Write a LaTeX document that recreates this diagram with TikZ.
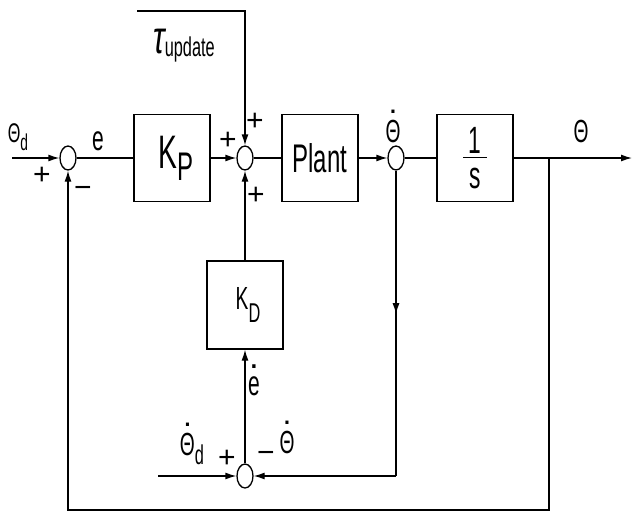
\documentclass[tikz,border=0pt]{standalone}
\usepackage{graphicx}
\usepackage{fontspec}
\setmainfont{Liberation Sans}[FakeStretch=0.6]
\newfontfamily\signfont{Liberation Sans}
\usepackage{tikz}
\usetikzlibrary{positioning,shapes.geometric,arrows.meta,decorations.markings}
\newcommand\lsub[2][0.3em]{\raisebox{-#1}{\scalebox{0.85}{#2}}}
\newcommand\dotover[2][0.9em]{\ooalign{#2\cr\hidewidth\raisebox{#1}{\signfont.}\hidewidth\cr}}

\begin{document}
\begin{tikzpicture}[x=1pt, y=-1pt, line width=1.3pt,
    blk/.style={draw,minimum width=76pt,minimum height=87pt,inner sep=0pt},
    sumj/.style={draw,ellipse,minimum width=16pt,minimum height=24pt,inner sep=0pt},
    arr/.style={-{Latex[length=11pt,width=7pt]}},
    midarr/.style={postaction={decorate},decoration={markings,mark=at position 0.47 with {\arrow{Latex[length=11pt,width=7pt]}}}},
    lbl/.style={inner sep=0pt,anchor=base,font=\fontsize{32}{32}\selectfont},
    sgn/.style={inner sep=0pt,font=\signfont\fontsize{30}{30}\selectfont}]
    \useasboundingbox (0,0) rectangle (633,512);
    % forward path
    \node[sumj] (s1) at (68,158) {};
    \node[blk,font=\fontsize{47}{47}\selectfont] (kp) at (172,158) {\hspace{8pt}K\lsub[0.25em]{P}};
    \node[sumj] (s2) at (245,158) {};
    \node[blk,font=\fontsize{40}{40}\selectfont] (plant) at (320,158) {Plant};
    \node[sumj] (s3) at (396,158) {};
    \node[blk,align=center,font=\fontsize{38}{38}\selectfont] (integ) at (475,158) {1\\[-33pt]\rule{24pt}{1.3pt}\\[-8pt]s};
    % derivative path
    \node[blk,minimum height=88pt,font=\fontsize{32}{32}\selectfont] (kd) at (245,305) {\hspace{6pt}K\lsub[0.4em]{D}};
    \node[sumj] (s4) at (245,476) {};
    \coordinate (in) at (12,158);
    \coordinate (out) at (632,158);
    \coordinate (br) at (549,158);
    \coordinate (br1) at (549,510);
    \coordinate (br2) at (68,510);
    \coordinate (tu) at (137,11);
    \coordinate (tu1) at (245,11);
    \coordinate (c3) at (396,476);
    \coordinate (ind) at (158,476);
    \draw[arr] (in) -- (s1); \draw (s1) -- (kp); \draw[arr] (kp) -- (s2);
    \draw (s2) -- (plant); \draw[arr] (plant) -- (s3); \draw (s3) -- (integ);
    \draw[arr] (integ) -- (out);
    \draw[arr] (br) -- (br1) -- (br2) -- (s1);
    \draw[arr] (tu) -- (tu1) -- (s2);
    \draw[arr] (kd) -- (s2); \draw[arr] (s4) -- (kd);
    \draw[midarr] (s3) -- (c3); \draw[arr] (c3) -- (s4);
    \draw[arr] (ind) -- (s4);
    % labels
    \node[lbl,font=\fontsize{27}{27}\selectfont] (thd) at (18,142) {Θ\lsub{d}};
    \node[lbl,font=\fontsize{35}{35}\selectfont] (e) at (98,150) {e};
    \node[lbl] (tau) at (184,53) {\scalebox{1.4}[2.1]{\signfont\itshape\fontsize{22}{22}\selectfont τ}\lsub[0.1em]{update}};
    \node[lbl] (thdot) at (393,142) {\dotover{Θ}};
    \node[lbl] (th) at (581,142) {Θ};
    \node[lbl,font=\fontsize{35}{35}\selectfont] (edot) at (254,395) {\dotover[0.75em]{e}};
    \node[lbl] (thddot) at (192,455) {\dotover{Θ}\lsub{d}};
    \node[lbl] (thdot2) at (287,453) {\dotover{Θ}};
    \node[sgn] (p1) at (42,176) {+};
    \node[sgn] (m1) at (83,192) {−};
    \node[sgn] (p2) at (228,141) {+};
    \node[sgn] (p3) at (255,122) {+};
    \node[sgn] (p4) at (256,196) {+};
    \node[sgn] (p5) at (227,459) {+};
    \node[sgn] (m5) at (266,457) {−};
\end{tikzpicture}
\end{document}
